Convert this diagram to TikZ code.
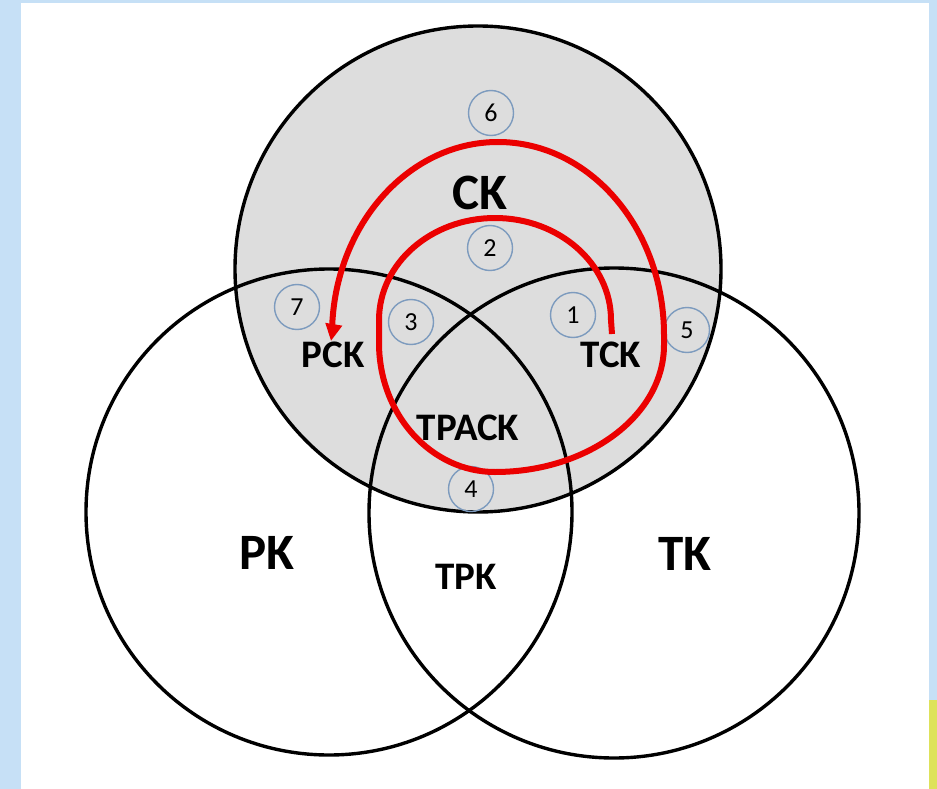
\documentclass[tikz,border=0pt]{standalone}
\usepackage{fontspec}
\setmainfont{Carlito}
\usetikzlibrary{arrows.meta}
\definecolor{skyblue}{RGB}{198,224,246}
\definecolor{ckgray}{RGB}{221,221,221}
\definecolor{numblue}{RGB}{125,155,190}
\definecolor{arrowred}{RGB}{235,0,0}
\definecolor{yel}{RGB}{222,226,90}
\tikzset{
  venn/.style={draw=black, line width=3.4pt},
  biglabel/.style={font=\bfseries\fontsize{51}{51}\selectfont, inner sep=0pt},
  smalllabel/.style={font=\bfseries\fontsize{39}{39}\selectfont, inner sep=0pt},
  numcircle/.style={circle, draw=numblue, line width=1.4pt, minimum size=45pt, inner sep=0pt, font=\fontsize{26}{26}\selectfont},
  spiral/.style={draw=arrowred, line width=6pt, -{Triangle[length=17pt,width=16pt]}}
}
\begin{document}
\begin{tikzpicture}[x=1pt,y=-1pt]
\useasboundingbox (0,0) rectangle (937,789);
\fill[skyblue] (0,0) rectangle (937,789);
\fill[yel] (929,700) rectangle (937,789);
\fill[white] (21,3) rectangle (929,789);
% circles
\fill[ckgray] (478,269) circle (243);
\draw[venn] (478,269) circle (243);
\draw[venn] (329,512) circle (243);
\draw[venn] (614,513) circle (245);
% labels
\node[biglabel] (ck) at (480,193) {CK};
\node[biglabel] (pk) at (267,553) {PK};
\node[biglabel] (tk) at (685,554) {TK};
\node[smalllabel] (pck) at (333,355) {PCK};
\node[smalllabel] (tck) at (611,355) {TCK};
\node[smalllabel] (tpack) at (468,428) {TPACK};
\node[smalllabel] (tpk) at (466,577) {TPK};
% numbered circles
\node[numcircle] (n6) at (491,113) {6};
\node[numcircle] (n2) at (490,248) {2};
\node[numcircle] (n7) at (297,307) {7};
\node[numcircle] (n3) at (411,322) {3};
\node[numcircle] (n1) at (573,315) {1};
\node[numcircle] (n5) at (687,330) {5};
\node[numcircle] (n4) at (471,489) {4};
% spiral arrow from TCK to PCK
\coordinate (sstart) at (612,334);
\coordinate (send) at (331,341);
\draw[spiral] (sstart) -- (611,320)
  arc[start angle=360, end angle=180, x radius=116, y radius=102]
  -- (379,343)
  arc[start angle=180, end angle=90, x radius=116, y radius=129]
  arc[start angle=90, end angle=0, x radius=169, y radius=127]
  -- (664,335)
  arc[start angle=360, end angle=180, x radius=166, y radius=193]
  -- (send);
\end{tikzpicture}
\end{document}
